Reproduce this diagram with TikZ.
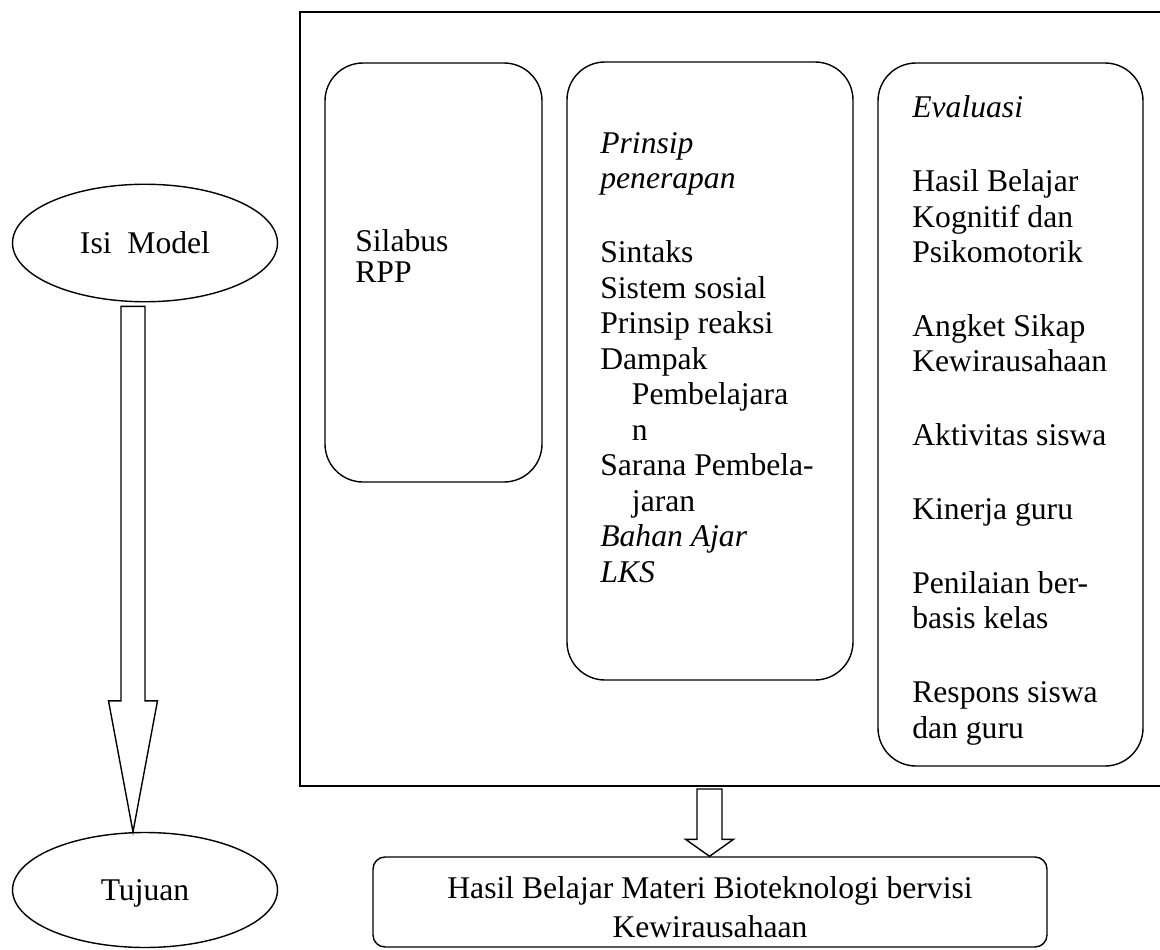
\documentclass[tikz,border=0pt]{standalone}
\usepackage{fontspec}
\setmainfont{Liberation Serif}
\usetikzlibrary{shapes.geometric,calc,fit}

\tikzset{
  oval/.style={draw,ellipse,line width=0.8pt,minimum width=5.3cm,minimum height=2.35cm,inner sep=0pt,text depth=0pt},
  rbox/.style={draw,line width=0.8pt,rounded corners=0.76cm,inner sep=0pt},
  txt/.style={anchor=base west,align=left,inner sep=0pt},
  blockarrow/.style={draw,line width=0.8pt,line join=miter}
}

% block arrow: #1 top, #2 tip, #3 half shaft, #4 half head, #5 head length
\newcommand{\blockarr}[5]{%
  \draw[blockarrow] ($(#1)+(-#3,0)$) -- ($(#2)+(-#3,-#5)$) -- ($(#2)+(-#4,-#5)$) -- (#2)
    -- ($(#2)+(#4,-#5)$) -- ($(#2)+(#3,-#5)$) -- ($(#1)+(#3,0)$) -- cycle;}

\begin{document}
\begin{tikzpicture}[x=0.02cm,y=-0.02cm,font=\fontsize{18}{20.2}\selectfont]
\useasboundingbox (0,0) rectangle (1160,950);

%left ovals
\node[oval] (isi) at (145,243) {Isi\ \ Model};
\node[oval,minimum height=2.3cm] (tujuan) at (145,890) {Tujuan};

%frame of the model (right side runs off the page)
\coordinate (frNW) at (300,12);
\coordinate (frSW) at (300,786);
\draw[line width=1pt] (1160,12) -- (frNW) -- (frSW) -- (1160,786);

%the three rounded boxes
\node[rbox,fit={(325,63) (542,482)}] (silabus) {};
\node[rbox,fit={(567,62) (853,680)}] (prinsip) {};
\node[rbox,fit={(878,63) (1143,766)}] (evaluasi) {};

%bottom box
\node[rbox,rounded corners=0.24cm,fit={(373,857) (1047,947)}] (hasil) {};

%texts in the boxes (placed at the baseline of their last line)
\node[txt] (silabustxt) at (355,282) {Silabus\\[-2.6pt]RPP};
\node[txt] (prinsiptxt) at (600,582) {\textit{Prinsip}\\
  \textit{penerapan}\\[21.8pt]
  Sintaks\\
  Sistem sosial\\
  Prinsip reaksi\\
  Dampak\\
  \hspace*{18pt}Pembelajara\\
  \hspace*{18pt}n\\
  Sarana Pembela-\\
  \hspace*{18pt}jaran\\
  \textit{Bahan Ajar}\\
  \textit{LKS}};
\node[txt] (evaluasitxt) at (912,738) {\textit{Evaluasi}\\[21.8pt]
  Hasil Belajar\\Kognitif dan\\Psikomotorik\\[21.8pt]
  Angket Sikap\\Kewirausahaan\\[21.8pt]
  Aktivitas siswa\\[21.8pt]
  Kinerja guru\\[21.8pt]
  Penilaian ber-\\basis kelas\\[21.8pt]
  Respons siswa\\dan guru};
\node[align=center,anchor=base,inner sep=0pt] (hasiltxt) at (710,937)
  {Hasil Belajar Materi Bioteknologi bervisi\\[1.9pt]Kewirausahaan};

%arrows
\coordinate (a1) at ($(isi.south)+(-12,4)$);
\coordinate (a2) at (tujuan.north -| a1);
\blockarr{a1}{a2}{12}{24.5}{131}

\coordinate (b1) at ($(frSW)+(409.5,3)$);
\coordinate (b2) at (hasil.north -| b1);
\blockarr{b1}{b2}{12.5}{24}{17}
\end{tikzpicture}
\end{document}
